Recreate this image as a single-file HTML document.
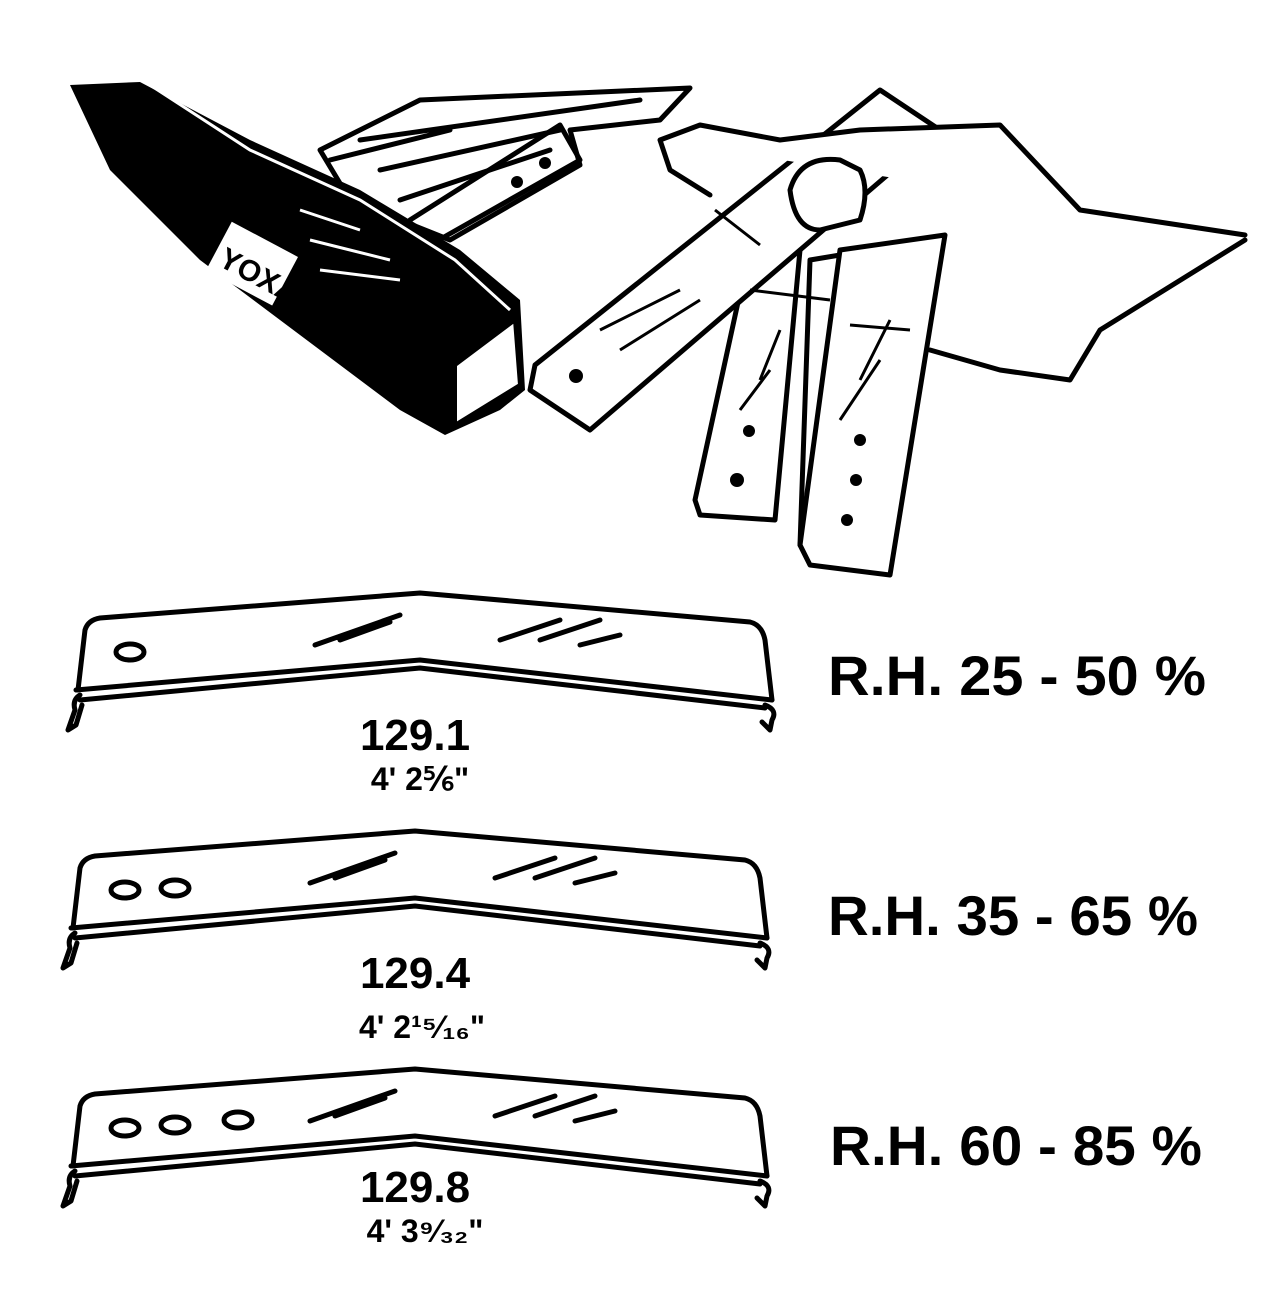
<!DOCTYPE html>
<html><head><style>
html,body{margin:0;padding:0;background:#fff}
svg{display:block}
text{font-family:"Liberation Sans",sans-serif;font-weight:bold;fill:#000}
</style></head><body>
<svg width="1278" height="1313" viewBox="0 0 1278 1313" xmlns="http://www.w3.org/2000/svg">
<g fill="none" stroke="#000" stroke-width="5" stroke-linejoin="round" stroke-linecap="round">
<!-- wooden handle -->
<path d="M320 150 L420 100 L690 88 L660 120 L570 130 L580 165 L450 240 L350 200 Z" fill="#fff"/>
<path d="M360 140 L640 100 M380 170 L560 130 M400 200 L550 150 M330 160 L450 130"/>
<path d="M410 220 L560 125 L580 160 L430 245"/>
</g>
<!-- hammer head -->
<path d="M70 85 L140 82 L250 140 L360 190 L460 250 L520 300 L525 390 L500 410 L445 435 L400 410 L200 260 L110 170 Z" fill="#000"/>
<path d="M150 85 L250 150 L360 200 L455 260 L510 310" stroke="#fff" stroke-width="3" fill="none"/>
<path d="M515 320 L520 385 L455 425 L455 365 Z" fill="#fff" stroke="#000" stroke-width="4"/>
<rect x="215" y="235" width="75" height="55" fill="#fff" transform="rotate(28 250 262)"/>
<text x="222" y="280" font-size="30" transform="rotate(28 250 262)">YOXA</text>
<g fill="none" stroke="#fff" stroke-width="3"><path d="M300 210 L360 230 M310 240 L390 260 M320 270 L400 280"/></g>
<!-- hand strips -->
<g fill="#fff" stroke="#000" stroke-width="5" stroke-linejoin="round" stroke-linecap="round">
<path d="M810 260 L870 250 L860 560 L810 560 L800 545 Z"/>
<path d="M745 270 L800 250 L775 520 L700 515 L695 500 Z"/>
<path d="M840 250 L945 235 L890 575 L810 565 L800 545 Z"/>
<path d="M880 90 L940 130 L590 430 L530 390 L535 365 Z"/>
<path d="M660 140 L700 125 L780 140 L860 130 L1000 125 L1080 210 L1245 235 M1245 240 L1100 330 L1070 380 L1000 370 L930 350 M660 140 L670 170 L710 195"/>
<path d="M790 190 Q800 155 840 160 L860 170 Q870 190 860 220 L820 230 Q795 230 790 190Z"/>
</g>
<g fill="none" stroke="#000" stroke-width="3">
<path d="M715 210 L760 245 M750 290 L830 300 M850 325 L910 330"/>
<path d="M600 330 L680 290 M620 350 L700 300 M760 380 L780 330 M740 410 L770 370 M860 380 L890 320 M840 420 L880 360"/>
</g>
<g fill="#000"><circle cx="576" cy="376" r="7"/><circle cx="749" cy="431" r="6"/><circle cx="737" cy="480" r="7"/><circle cx="860" cy="440" r="6"/><circle cx="856" cy="480" r="6"/><circle cx="847" cy="520" r="6"/><circle cx="517" cy="182" r="6"/><circle cx="545" cy="163" r="6"/></g>
<!-- bars -->
<g id="b" fill="none" stroke="#000" stroke-width="5" stroke-linejoin="round" stroke-linecap="round">
<path d="M78 690 L85 630 Q88 620 100 618 L420 593 L750 622 Q762 625 765 640 L772 700"/>
<path d="M76 690 L420 660 L772 700"/>
<path d="M80 700 L420 668 L765 708"/>
<path d="M80 695 Q72 700 75 710 L68 730 L76 725 L82 705 M765 705 Q778 710 772 720 L770 730 L762 722"/>
<ellipse cx="130" cy="652" rx="14" ry="8"/>
<path d="M315 645 L400 615 M340 640 L390 622 M500 640 L560 620 M540 640 L600 620 M580 645 L620 635"/>
</g>
<use href="#b" transform="translate(-5 238)"/>
<use href="#b" transform="translate(-5 476)"/>
<g fill="none" stroke="#000" stroke-width="5">
<ellipse cx="175" cy="888" rx="14" ry="8"/>
<ellipse cx="175" cy="1125" rx="14" ry="8"/><ellipse cx="238" cy="1120" rx="14" ry="8"/>
</g>
<g font-size="44" text-anchor="middle">
<text x="415" y="750">129.1</text><text x="415" y="988">129.4</text><text x="415" y="1202">129.8</text>
</g>
<g font-size="32" text-anchor="middle">
<text x="420" y="790">4' 2⅚"</text><text x="422" y="1038">4' 2¹⁵⁄₁₆"</text><text x="425" y="1242">4' 3⁹⁄₃₂"</text>
</g>
<g font-size="56" font-weight="normal" style="font-weight:normal">
<text x="828" y="695" textLength="378" lengthAdjust="spacingAndGlyphs">R.H. 25 - 50 %</text>
<text x="828" y="935" textLength="370" lengthAdjust="spacingAndGlyphs">R.H. 35 - 65 %</text>
<text x="830" y="1165" textLength="372" lengthAdjust="spacingAndGlyphs">R.H. 60 - 85 %</text>
</g>
</svg>
</body></html>
